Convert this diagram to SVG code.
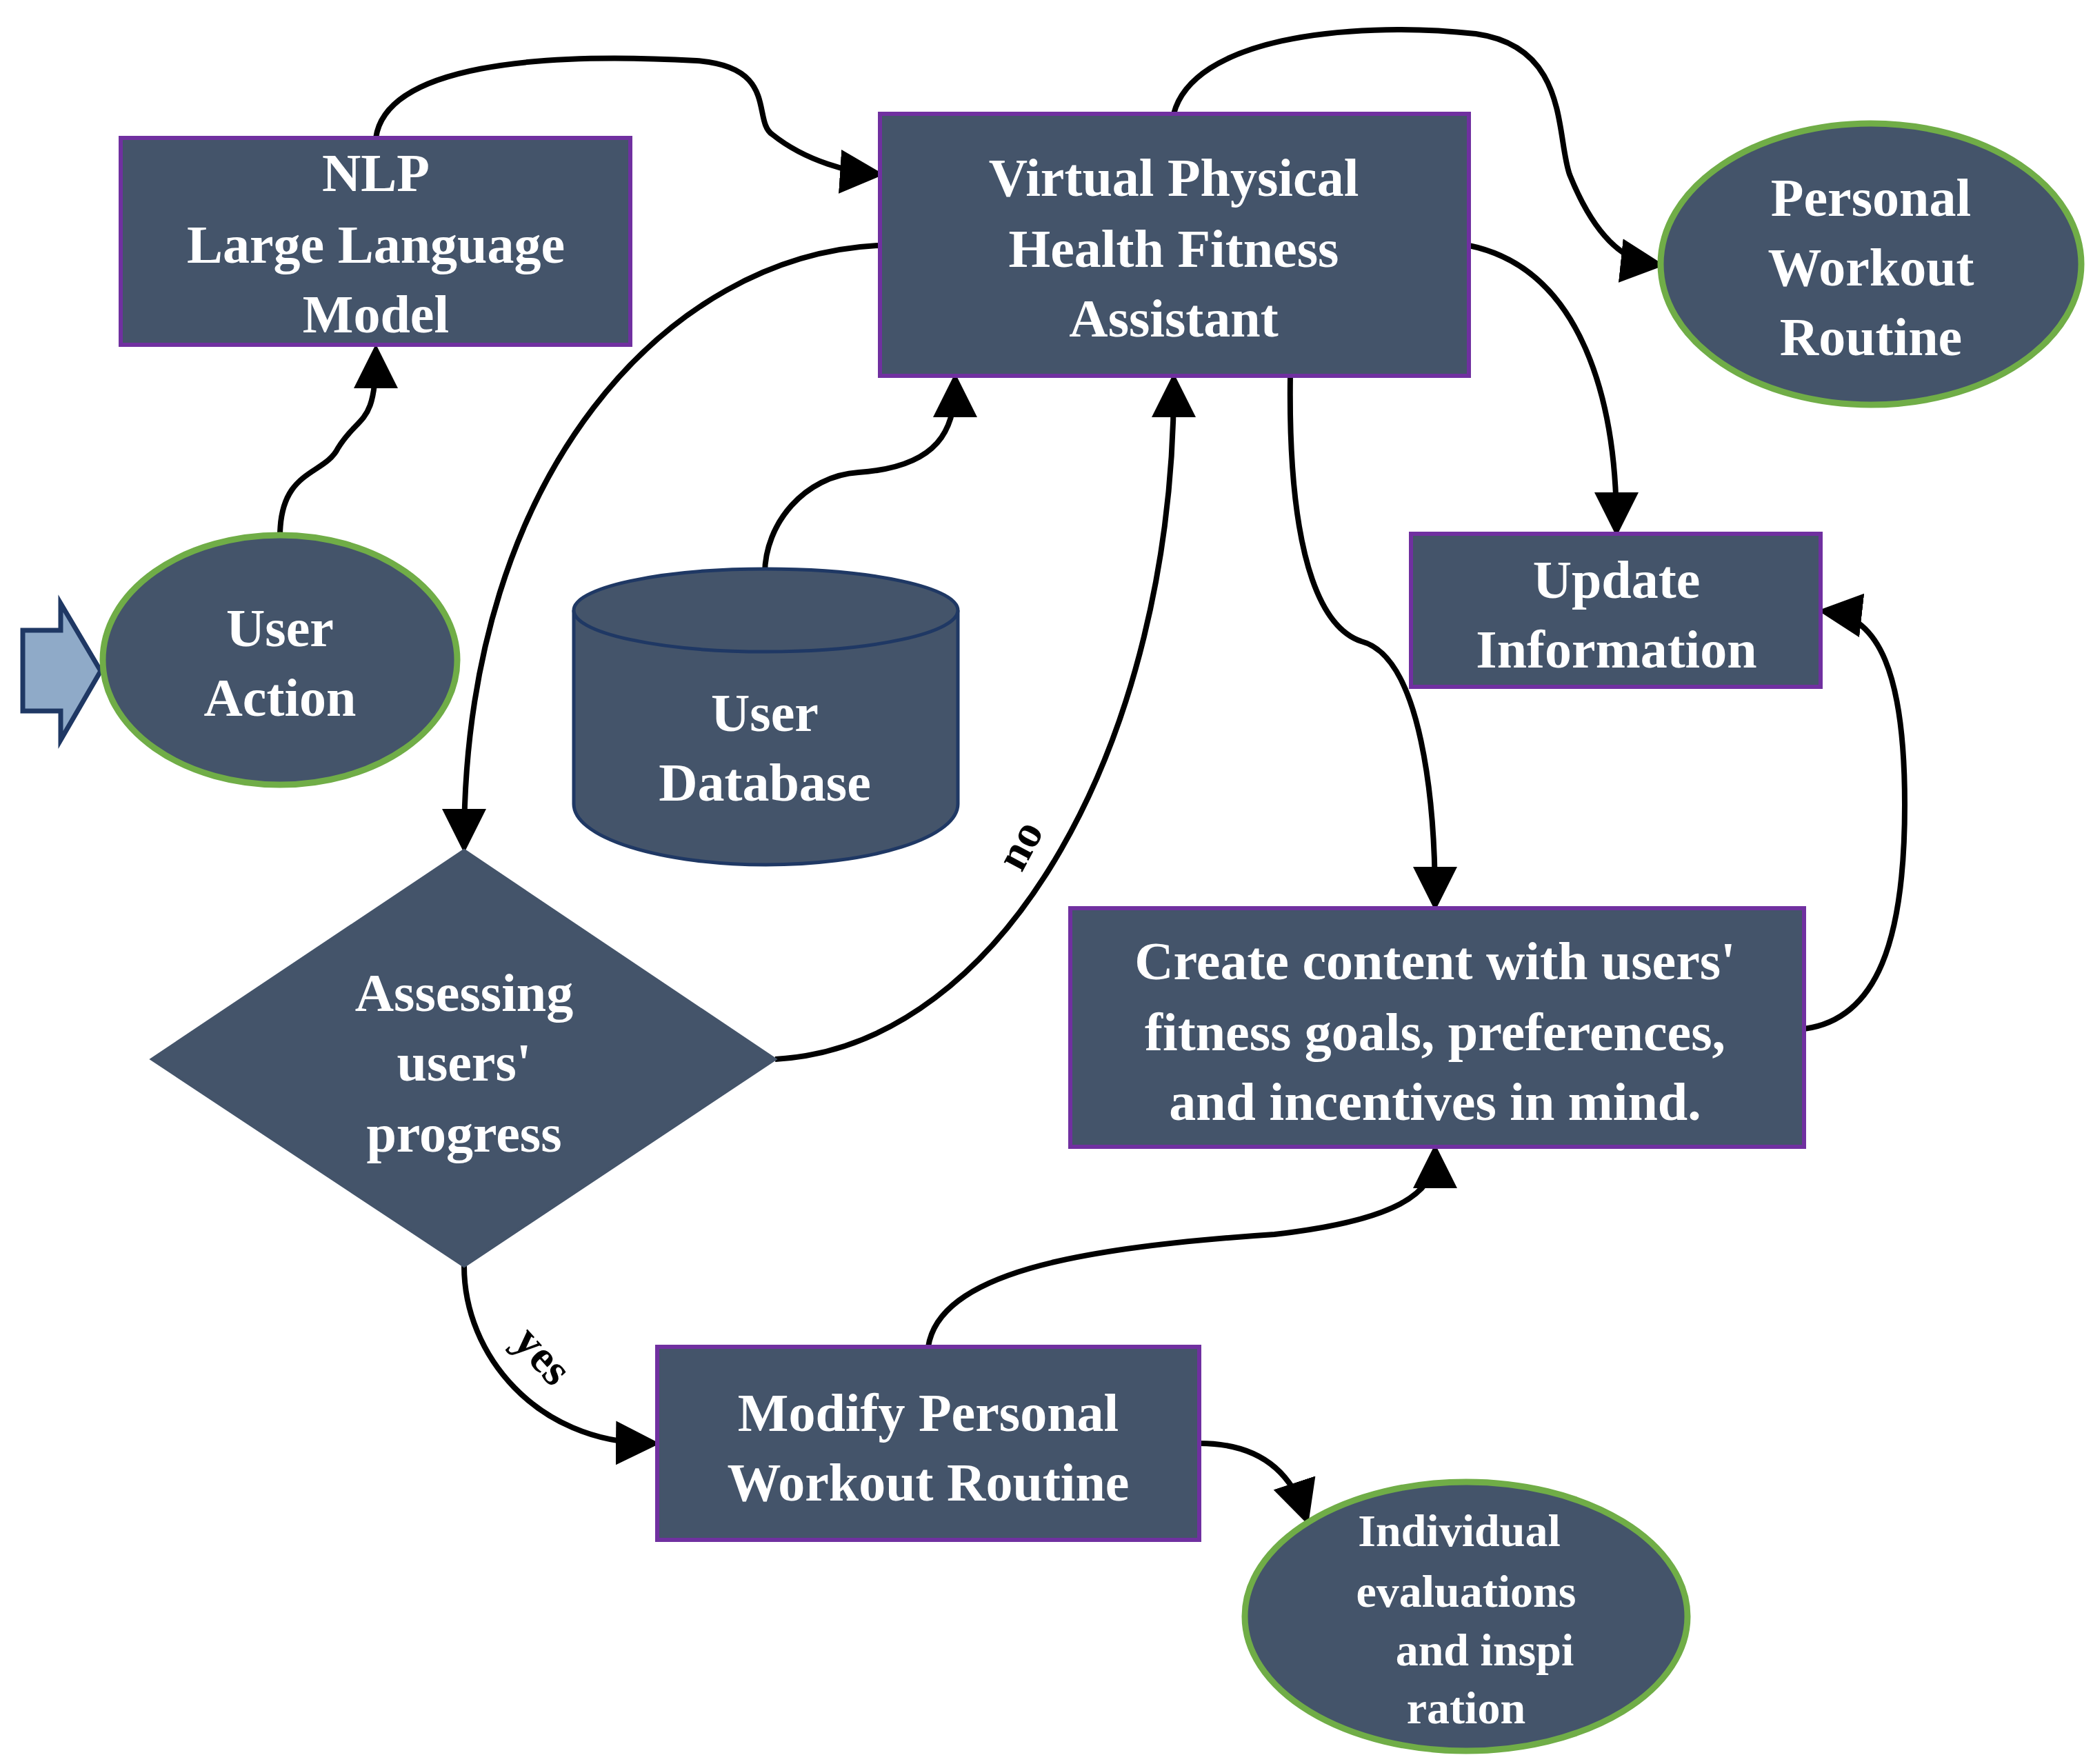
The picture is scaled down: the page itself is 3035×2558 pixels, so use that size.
<svg xmlns="http://www.w3.org/2000/svg" width="3035" height="2558" viewBox="0 0 3035 2558">
<style>
.box{fill:#44546a;stroke:#7030a0;stroke-width:6}
.ell{fill:#44546a;stroke:#70ad47;stroke-width:9}
.t{fill:#fff;font-family:"Liberation Serif",serif;font-weight:bold;font-size:78px;text-anchor:middle;dominant-baseline:central}
.s{font-size:66px}
.c{fill:none;stroke:#000;stroke-width:8;marker-end:url(#a)}
.lb{fill:#000;font-family:"Liberation Serif",serif;font-weight:bold;font-size:66px;text-anchor:middle;dominant-baseline:central}
</style>
<defs><marker id="a" markerWidth="8" markerHeight="8" refX="6" refY="4" orient="auto" markerUnits="strokeWidth"><path d="M0,0 L8,4 L0,8 Z" fill="#000"/></marker></defs>
<rect width="3035" height="2558" fill="#fff"/>
<g id="connectors">
<path class="c" d="M406,778 C406,680 470,690 490,650 C520,600 545,620 545,515"/>
<path class="c" d="M545,200 C560,95 780,75 1010,88 C1130,97 1090,175 1120,195 C1170,235 1235,250 1266,252"/>
<path class="c" d="M1702,165 C1730,58 1945,29 2140,49 C2275,68 2256,195 2276,253 C2315,350 2360,379 2398,383"/>
<path class="c" d="M2130,356 C2295,390 2344,584 2344,762"/>
<path class="c" d="M1871,545 C1867,836 1926,914 1974,930 C2062,953 2081,1167 2081,1305"/>
<path class="c" d="M1109,832 C1109,759 1167,690 1245,685 C1362,677 1385,622 1385,557"/>
<path class="c" d="M1274,356 C973,370 673,681 673,1221"/>
<path class="c" d="M1124,1536 C1459,1517 1702,1070 1702,557"/>
<path class="c" d="M673,1836 C673,1965 778,2091 941,2093"/>
<path class="c" d="M1346,1953 C1362,1848 1556,1809 1848,1790 C2023,1770 2081,1731 2081,1675"/>
<path class="c" d="M2616,1492 C2723,1478 2762,1362 2762,1167 C2762,973 2723,895 2652,887"/>
<path class="c" d="M1739,2093 C1809,2093 1867,2120 1892,2196"/>
<text class="lb" transform="translate(1478,1225) rotate(-62)">no</text>
<text class="lb" transform="translate(788,1965) rotate(48)">yes</text>
</g>
<g id="start"><polygon points="33,914 88,914 88,875 146,973 88,1073 88,1031 33,1031" fill="#8faac8" stroke="#1f3864" stroke-width="7"/></g>
<g id="nlp"><rect class="box" x="175" y="200" width="739" height="300"/><text class="t" x="545" y="250">NLP</text><text class="t" x="545" y="354">Large Language</text><text class="t" x="545" y="455">Model</text></g>
<g id="vphfa"><rect class="box" x="1276" y="165" width="854" height="380"/><text class="t" x="1702" y="257">Virtual Physical</text><text class="t" x="1702" y="360">Health Fitness</text><text class="t" x="1702" y="461">Assistant</text></g>
<g id="personal"><ellipse class="ell" cx="2713" cy="383" rx="305" ry="204"/><text class="t" x="2713" y="286">Personal</text><text class="t" x="2713" y="387">Workout</text><text class="t" x="2713" y="488">Routine</text></g>
<g id="useraction"><ellipse class="ell" cx="406" cy="957" rx="257" ry="181"/><text class="t" x="406" y="910">User</text><text class="t" x="406" y="1011">Action</text></g>
<g id="database"><path d="M832,885 L832,1166 A278.5,88 0 0 0 1389,1166 L1389,885" fill="#44546a" stroke="#1f3864" stroke-width="5"/><ellipse cx="1110.5" cy="885" rx="278.5" ry="60" fill="#44546a" stroke="#1f3864" stroke-width="5"/><text class="t" x="1109" y="1033">User</text><text class="t" x="1109" y="1134">Database</text></g>
<g id="update"><rect class="box" x="2046" y="774" width="594" height="222"/><text class="t" x="2344" y="840">Update</text><text class="t" x="2344" y="941">Information</text></g>
<g id="create"><rect class="box" x="1552" y="1317" width="1064" height="346"/><text class="t" x="2081" y="1393">Create content with users'</text><text class="t" x="2081" y="1496">fitness goals, preferences,</text><text class="t" x="2081" y="1597">and incentives in mind.</text></g>
<g id="assess"><polygon points="673,1233 1124,1536 673,1836 220,1536" fill="#44546a" stroke="#44546a" stroke-width="4"/><text class="t" x="673" y="1439">Assessing</text><text class="t" x="673" y="1540">users'</text><text class="t" x="673" y="1643">progress</text></g>
<g id="modify"><rect class="box" x="953" y="1953" width="786" height="280"/><text class="t" x="1346" y="2048">Modify Personal</text><text class="t" x="1346" y="2149">Workout Routine</text></g>
<g id="individual"><ellipse class="ell" cx="2126" cy="2344" rx="321" ry="195"/><text class="t s" x="2116" y="2219">Individual</text><text class="t s" x="2126" y="2307">evaluations</text><text class="t s" x="2153" y="2392">and inspi</text><text class="t s" x="2126" y="2476">ration</text></g>
</svg>
